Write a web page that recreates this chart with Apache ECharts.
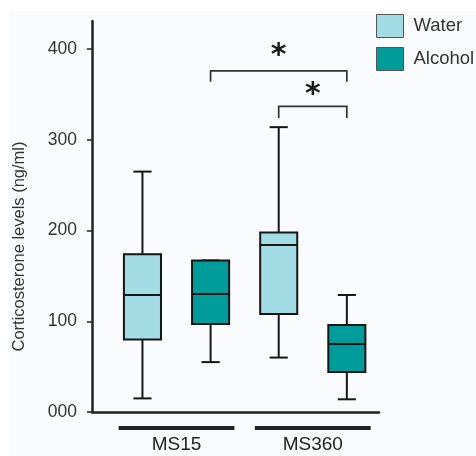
<!DOCTYPE html>
<html>
<head>
<meta charset="utf-8">
<script src="https://cdn.jsdelivr.net/npm/echarts@6/dist/echarts.min.js"></script>
<style>
  html, body { margin: 0; padding: 0; background: #ffffff; }
  #bg { position: absolute; left: 9px; top: 11px; width: 467px; height: 445px; background: #fafbfd; }
  #chart { position: absolute; left: 0; top: 0; width: 476px; height: 456px; }
</style>
</head>
<body>
<div id="bg"></div>
<div id="chart"></div>
<script>
// ---- data ----
const categories = ['MS15', 'MS360'];
const seriesNames = ['Water', 'Alcohol'];
// [min, Q1, median, Q3, max]
const waterBoxes = [[15, 80, 129, 174, 265], [60, 108, 184, 198, 314]];
const alcoholBoxes = [[55, 97, 130, 167, 167], [14, 44, 75, 96, 129]];
const yTickValues = [0, 100, 200, 300, 400];
const yTickLabels = ['000', '100', '200', '300', '400'];
const yAxisMax = 431;
// significance brackets: [category index, series index] endpoints
const bracketFrom = [[0, 1], [1, 0]];
const bracketTo = [[1, 1], [1, 1]];
const bracketTop = [376, 337];
const bracketEnd = [364, 324];
const bracketMarkY = [392, 349];
const bracketLabel = ['*', '*'];

const colors = ['#a4dce6', '#009c9b'];
const seriesOffsets = [-0.25, 0.25];

function boxRenderer(sIdx) {
  return function (params, api) {
    const i = api.value(0);
    const band = api.size([1, 0])[0];
    const cx = api.coord([i, 0])[0] + seriesOffsets[sIdx] * band;
    const y = [1, 2, 3, 4, 5].map(k => api.coord([i, api.value(k)])[1]);
    const bw = band * 0.272, cw = bw * 0.49;
    const ls = { stroke: '#161616', lineWidth: 2 };
    const children = [
      { type: 'line', shape: { x1: cx, y1: y[4], x2: cx, y2: y[3] }, style: ls },
      { type: 'line', shape: { x1: cx, y1: y[1], x2: cx, y2: y[0] }, style: ls },
      { type: 'line', shape: { x1: cx - cw / 2, y1: y[4], x2: cx + cw / 2, y2: y[4] }, style: ls },
      { type: 'line', shape: { x1: cx - cw / 2, y1: y[0], x2: cx + cw / 2, y2: y[0] }, style: ls },
      { type: 'rect', shape: { x: cx - bw / 2, y: y[3], width: bw, height: y[1] - y[3] },
        style: { fill: colors[sIdx], stroke: '#161616', lineWidth: 2 } },
      { type: 'line', shape: { x1: cx - bw / 2, y1: y[2], x2: cx + bw / 2, y2: y[2] }, style: ls }
    ];
    return { type: 'group', children: children };
  };
}

function bracketRenderer(params, api) {
  const band = api.size([1, 0])[0];
  const x1 = api.coord([api.value(0), 0])[0] + seriesOffsets[api.value(1)] * band;
  const x2 = api.coord([api.value(2), 0])[0] + seriesOffsets[api.value(3)] * band;
  const yt = api.coord([0, api.value(4)])[1];
  const ye = api.coord([0, api.value(5)])[1];
  const ym = api.coord([0, api.value(6)])[1];
  const idx = params.dataIndex;
  return {
    type: 'group',
    children: [
      { type: 'polyline', shape: { points: [[x1, ye], [x1, yt], [x2, yt], [x2, ye]] },
        style: { stroke: '#333', lineWidth: 1.7, fill: null } },
      { type: 'text', x: (x1 + x2) / 2, y: ym,
        style: { text: bracketLabel[idx], fontFamily: 'DejaVu Sans', fontWeight: 'bold', fontSize: 30,
                 fill: '#1a1a1a', align: 'center', verticalAlign: 'middle' } }
    ]
  };
}

function groupBarRenderer(params, api) {
  const i = api.value(0);
  const band = api.size([1, 0])[0];
  const c = api.coord([i, 0]);
  const w = band * 0.85;
  return { type: 'rect', shape: { x: c[0] - w / 2, y: c[1] + 14, width: w, height: 4 },
           style: { fill: '#222' } };
}

const chart = echarts.init(document.getElementById('chart'), null, { renderer: 'canvas' });
const font = 'Liberation Sans, Arial, sans-serif';

chart.setOption({
  animation: false,
  textStyle: { fontFamily: font },
  grid: [
    { left: 92, right: 97, top: 21, bottom: 44 },
    { left: 108.4, right: 95.1, top: 21, bottom: 44 }
  ],
  legend: {
    orient: 'vertical', left: 376, top: 14, padding: 0,
    itemWidth: 27, itemHeight: 23, itemGap: 9, icon: 'rect',
    textStyle: { fontFamily: font, fontSize: 18.5, color: '#333', padding: [0, 0, 0, 5] },
    data: seriesNames.map((n, k) => ({ name: n, itemStyle: { color: colors[k], borderColor: '#555', borderWidth: 1 } }))
  },
  xAxis: [
    { gridIndex: 0, type: 'value', min: 0, max: 1, splitLine: { show: false },
      axisLine: { show: true, onZero: false, lineStyle: { color: '#222', width: 2.5 } },
      axisTick: { show: false }, axisLabel: { show: false } },
    { gridIndex: 1, type: 'category', data: categories, boundaryGap: true,
      axisLine: { show: false }, axisTick: { show: false },
      axisLabel: { fontFamily: font, fontSize: 19, color: '#222', margin: 23 } }
  ],
  yAxis: [
    { gridIndex: 0, type: 'value', min: 0, max: yAxisMax, splitLine: { show: false },
      name: 'Corticosterone levels (ng/ml)', nameLocation: 'middle', nameGap: 64, nameRotate: 90,
      nameTextStyle: { fontFamily: font, fontSize: 16.5, color: '#333', padding: [0, 60, 0, 0] },
      axisLine: { show: true, lineStyle: { color: '#222', width: 2.5 } },
      axisTick: { show: true, length: 5, customValues: yTickValues, lineStyle: { color: '#222', width: 1.5 } },
      axisLabel: { customValues: yTickValues, fontFamily: font, fontSize: 17.5, color: '#333', margin: 15,
        formatter: v => yTickLabels[yTickValues.indexOf(v)] } },
    { gridIndex: 1, type: 'value', min: 0, max: yAxisMax, show: false }
  ],
  series: [
    { name: seriesNames[0], type: 'custom', xAxisIndex: 1, yAxisIndex: 1, renderItem: boxRenderer(0),
      itemStyle: { color: colors[0], borderColor: '#555' },
      encode: { x: 0, y: [1, 2, 3, 4, 5] },
      data: categories.map((c, i) => [i].concat(waterBoxes[i])) },
    { name: seriesNames[1], type: 'custom', xAxisIndex: 1, yAxisIndex: 1, renderItem: boxRenderer(1),
      itemStyle: { color: colors[1], borderColor: '#555' },
      encode: { x: 0, y: [1, 2, 3, 4, 5] },
      data: categories.map((c, i) => [i].concat(alcoholBoxes[i])) },
    { name: 'brackets', type: 'custom', xAxisIndex: 1, yAxisIndex: 1, renderItem: bracketRenderer,
      clip: false, silent: true,
      encode: { x: [0, 2], y: [4, 5, 6] },
      data: bracketFrom.map((f, k) => [f[0], f[1], bracketTo[k][0], bracketTo[k][1], bracketTop[k], bracketEnd[k], bracketMarkY[k]]) },
    { name: 'groups', type: 'custom', xAxisIndex: 1, yAxisIndex: 1, renderItem: groupBarRenderer,
      clip: false, silent: true, encode: { x: 0 },
      data: categories.map((c, i) => [i]) }
  ]
});
</script>
</body>
</html>
